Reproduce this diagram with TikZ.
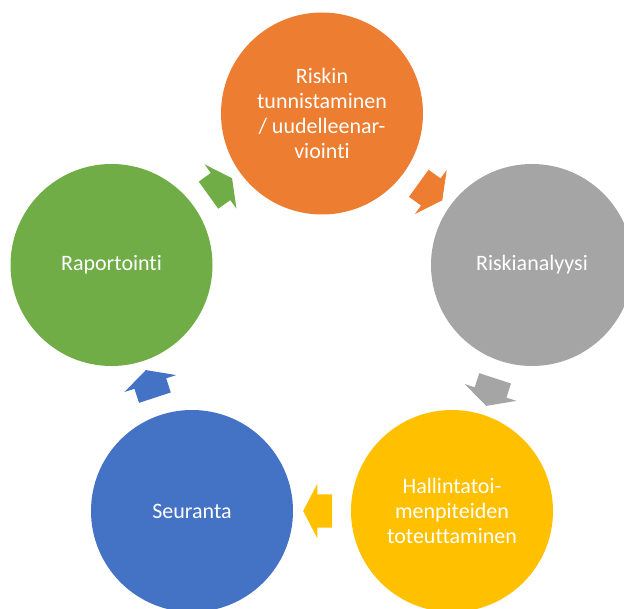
\documentclass[tikz,border=0pt]{standalone}
\usepackage{fontspec}
\setmainfont{Carlito}[Ligatures=NoCommon]
\usepackage{xcolor}
\usetikzlibrary{shapes.arrows}

\definecolor{riskorange}{HTML}{ED7D31}
\definecolor{riskgray}{HTML}{A5A5A5}
\definecolor{riskyellow}{HTML}{FFC000}
\definecolor{riskblue}{HTML}{4472C4}
\definecolor{riskgreen}{HTML}{70AD47}

\begin{document}
\begin{tikzpicture}[x=1pt, y=-1pt,
    phase/.style={circle, minimum size=202pt, inner sep=0pt, text=white, align=center,
        font=\fontsize{22}{25}\selectfont},
    cyclearrow/.style={single arrow, draw=none, inner xsep=0pt, inner ysep=16.5pt,
        minimum height=29pt, minimum width=54pt, single arrow head extend=10.5pt,
        single arrow tip angle=125, sloped, allow upside down}]
\clip (0,0) rectangle (624,609);

\node[phase, fill=riskorange] (tunnistus) at (322,113.5) {Riskin\\tunnistaminen\\/ uudelleenar-\\viointi};
\node[phase, fill=riskgray] (analyysi) at (532,265) {Riskianalyysi};
\node[phase, fill=riskyellow] (hallinta) at (452,511) {Hallintatoi-\\menpiteiden\\toteuttaminen};
\node[phase, fill=riskblue] (seuranta) at (192,511) {Seuranta};
\node[phase, fill=riskgreen] (raportointi) at (111.5,265) {Raportointi};

\path (tunnistus) -- (analyysi) node[midway, cyclearrow, fill=riskorange] (arrow_1) {};
\path (analyysi) -- (hallinta) node[midway, cyclearrow, fill=riskgray] (arrow_2) {};
\path (hallinta) -- (seuranta) node[midway, cyclearrow, fill=riskyellow] (arrow_3) {};
\path (seuranta) -- (raportointi) node[midway, cyclearrow, fill=riskblue] (arrow_4) {};
\path (raportointi) -- (tunnistus) node[midway, cyclearrow, fill=riskgreen] (arrow_5) {};

\end{tikzpicture}
\end{document}
